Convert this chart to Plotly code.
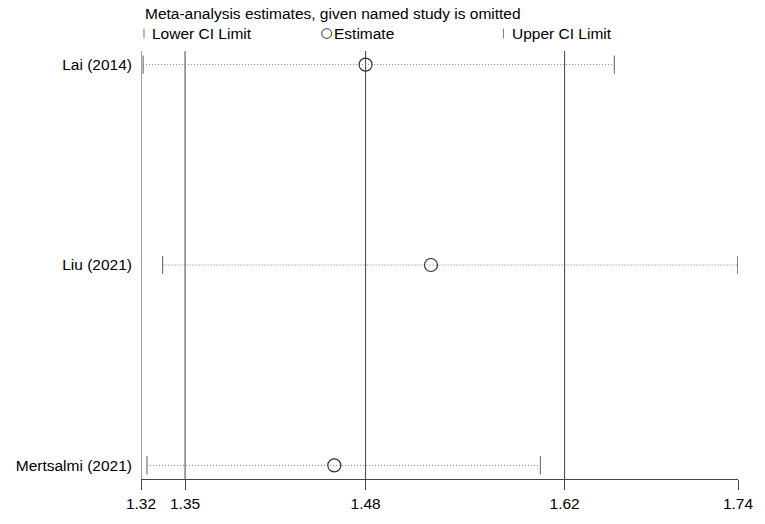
import plotly.graph_objects as go

# ---- data ----
studies = ["Lai (2014)", "Liu (2021)", "Mertsalmi (2021)"]
estimate = [1.478, 1.524, 1.456]
lower_ci = [1.3215, 1.3352, 1.3242]
upper_ci = [1.653, 1.7398, 1.601]

overall_lines = [1.32, 1.351, 1.478, 1.618]
tick_vals = [1.32, 1.351, 1.478, 1.618, 1.74]
tick_text = ["1.32", "1.35", "1.48", "1.62", "1.74"]

title_text = "Meta-analysis estimates, given named study is omitted"
legend_labels = ["Lower CI Limit", "Estimate", "Upper CI Limit"]

# ---- layout constants ----
W, H = 765, 524
ML, MR, MT, MB = 141, 26, 51, 32
PW, PH = W - ML - MR, H - MT - MB
FONT = "Liberation Sans, Arial, sans-serif"
AX = "#444444"
GRAY = "#777777"
FS = 15.5


def px_x(p):
    return (p - ML) / PW


def px_y(p):
    return (H - MB - p) / PH


ypos = list(range(1, len(studies) + 1))

fig = go.Figure()
for i, s in enumerate(studies):
    y = ypos[i]
    fig.add_trace(go.Scatter(
        x=[lower_ci[i], upper_ci[i]], y=[y, y], mode="lines",
        line=dict(color=GRAY, width=1, dash="1px,2px"), showlegend=False,
        hoverinfo="skip"))
    fig.add_trace(go.Scatter(
        x=[lower_ci[i], upper_ci[i]], y=[y, y], mode="markers",
        marker=dict(symbol="line-ns", size=13, line=dict(color=GRAY, width=1.2)),
        showlegend=False))
    fig.add_trace(go.Scatter(
        x=[estimate[i]], y=[y], mode="markers",
        marker=dict(symbol="circle-open", size=13, color="#333333",
                    line=dict(color="#333333", width=1.2)),
        showlegend=False))

shapes = []
for v in overall_lines:
    shapes.append(dict(type="line", xref="x", yref="paper", x0=v, x1=v,
                       y0=0, y1=1, line=dict(color=AX, width=1), layer="below"))

# legend-like header
row_y = 33
shapes.append(dict(type="line", xref="paper", yref="paper",
                   x0=px_x(144), x1=px_x(144), y0=px_y(row_y - 5), y1=px_y(row_y + 5),
                   line=dict(color=GRAY, width=1)))
shapes.append(dict(type="circle", xref="paper", yref="paper",
                   x0=px_x(322), x1=px_x(332), y0=px_y(row_y + 5), y1=px_y(row_y - 5),
                   line=dict(color="#333333", width=1)))
shapes.append(dict(type="line", xref="paper", yref="paper",
                   x0=px_x(504), x1=px_x(504), y0=px_y(row_y - 5), y1=px_y(row_y + 5),
                   line=dict(color=GRAY, width=1)))

annotations = [
    dict(text=title_text, xref="paper", yref="paper", x=px_x(143), y=px_y(12),
         xanchor="left", yanchor="middle", showarrow=False,
         font=dict(size=FS, color="black", family=FONT)),
    dict(text=legend_labels[0], xref="paper", yref="paper", x=px_x(150), y=px_y(row_y),
         xanchor="left", yanchor="middle", showarrow=False,
         font=dict(size=FS, color="black", family=FONT)),
    dict(text=legend_labels[1], xref="paper", yref="paper", x=px_x(332), y=px_y(row_y),
         xanchor="left", yanchor="middle", showarrow=False,
         font=dict(size=FS, color="black", family=FONT)),
    dict(text=legend_labels[2], xref="paper", yref="paper", x=px_x(511), y=px_y(row_y),
         xanchor="left", yanchor="middle", showarrow=False,
         font=dict(size=FS, color="black", family=FONT)),
]

fig.update_layout(
    width=W, height=H,
    margin=dict(l=ML, r=MR, t=MT, b=MB, pad=0),
    plot_bgcolor="white", paper_bgcolor="white",
    font=dict(family=FONT, size=FS, color="black"),
    shapes=shapes, annotations=annotations,
    xaxis=dict(range=[1.32, 1.74], tickvals=tick_vals, ticktext=tick_text,
               showgrid=False, zeroline=False, showline=True, linecolor=AX,
               linewidth=1, ticks="outside", ticklen=10, tickcolor=AX,
               tickfont=dict(size=FS, color="black", family=FONT)),
    yaxis=dict(range=[3.068, 0.932], tickvals=ypos, ticktext=studies,
               showgrid=False, zeroline=False, showline=False, ticks="",
               ticklabelstandoff=8,
               tickfont=dict(size=FS, color="black", family=FONT)),
)

fig.write_html(
    "out.html",
    config={"displayModeBar": False, "staticPlot": True},
    post_script="document.body.style.margin='0';document.body.style.overflow='hidden';",
)
